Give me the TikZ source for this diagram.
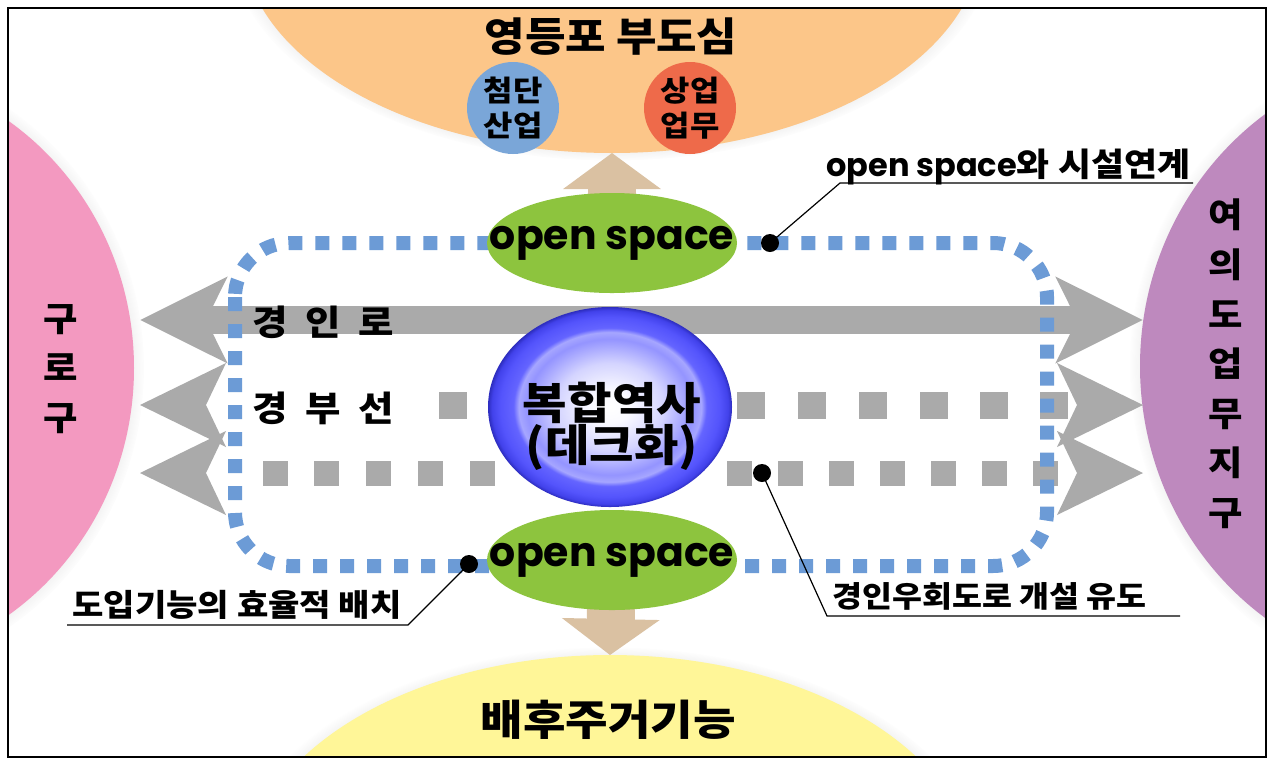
\documentclass[tikz,border=0pt]{standalone}
\usepackage{fontspec}
\newfontfamily\kr{Noto Sans CJK KR}[FakeStretch=1.1]
\newfontfamily\pop{Poppins}
\usetikzlibrary{shapes.geometric,shadows,fadings,arrows.meta}
\definecolor{orangeC}{RGB}{252,198,137}
\definecolor{blueC}{RGB}{122,166,216}
\definecolor{redC}{RGB}{238,106,74}
\definecolor{tanC}{RGB}{218,193,162}
\definecolor{greenC}{RGB}{141,196,62}
\definecolor{pinkC}{RGB}{243,153,192}
\definecolor{purpleC}{RGB}{190,137,190}
\definecolor{yellowC}{RGB}{255,246,152}
\definecolor{grayC}{RGB}{170,170,170}
\definecolor{dotC}{RGB}{108,155,214}
\definecolor{sphA}{RGB}{250,250,255}
\definecolor{sphB}{RGB}{212,212,255}
\definecolor{sphC}{RGB}{148,148,255}
\definecolor{sphR}{RGB}{166,166,255}
\definecolor{sphD}{RGB}{100,100,255}
\definecolor{sphF}{RGB}{84,84,252}
\definecolor{sphG}{RGB}{66,66,235}
\definecolor{sphE}{RGB}{45,45,190}
\pgfdeclareradialshading{sph}{\pgfpoint{0bp}{0bp}}{color(0bp)=(white); color(4bp)=(sphA); color(11bp)=(sphB); color(17bp)=(sphC); color(18.7bp)=(sphR); color(19.8bp)=(sphD); color(22.5bp)=(sphF); color(24.2bp)=(sphG); color(25bp)=(sphE); color(50bp)=(sphE)}
\newcommand\grayhead[3]{\fill[grayC] (#1,#2) -- ++({#3*86},-42) -- ++({-(#3)*20},42) -- ++({#3*20},42) -- cycle;}
\newcommand\widesp{\spaceskip=9pt plus 0pt minus 0pt\relax}
\begin{document}
\begin{tikzpicture}[x=0.5pt,y=-0.5pt,
  regionell/.style={ellipse, inner sep=0pt, outer sep=0pt,
    circular drop shadow={shadow scale=1.035, shadow xshift=0pt, shadow yshift=0pt, opacity=0.35}},
  osell/.style={ellipse, fill=greenC, inner sep=0pt, outer sep=0pt, minimum width=125pt, minimum height=50pt},
  subcirc/.style={circle, inner sep=0pt, outer sep=0pt, minimum size=46pt, align=center,
    font=\kr\bfseries\fontsize{14.5}{17.5}\selectfont},
  hubball/.style={ellipse, inner sep=0pt, minimum width=122pt, minimum height=100pt, shade, shading=sph},
  headtxt/.style={font=\kr\bfseries\fontsize{20}{24}\selectfont},
  ostxt/.style={font=\pop\bfseries\fontsize{20.5}{24}\selectfont},
  vtxt/.style={align=center, font=\kr\bfseries\fontsize{17}{24.8}\selectfont},
  roadtxt/.style={anchor=west, font=\kr\bfseries\fontsize{17.5}{20}\selectfont},
  calltxt/.style={anchor=base west, inner sep=0pt, font=\kr\bfseries\fontsize{16.3}{18}\selectfont},
  tanarrow/.style={draw=tanC, line width=24pt, -{Triangle[width=48pt, length=18pt]}},
  graybar/.style={draw=grayC, line width=14pt,
    {Stealth[length=43pt, width=42pt, inset=10pt]}-{Stealth[length=43pt, width=42pt, inset=10pt]}},
  dotrect/.style={draw=dotC, line width=7pt, dash pattern=on 7pt off 6.5pt, rounded corners=27pt},
  leader/.style={draw=black, line width=0.6pt},
  dotend/.style={circle, fill=black, inner sep=0pt, minimum size=9pt}
]
\useasboundingbox (0,0) rectangle (1273,762);
\fill[white] (0,0) rectangle (1273,762);

% surrounding districts
\begin{scope}
\clip (8,8) rectangle (1266,757);
\node[regionell, fill=pinkC, minimum width=290pt, minimum height=300pt] (guro) at (-156,368) {};
\node[regionell, fill=purpleC, minimum width=300pt, minimum height=310pt] (yeoui) at (1440,366) {};
\node[regionell, fill=orangeC, minimum width=370pt, minimum height=215pt] (ydp) at (612,-62) {};
\node[regionell, fill=yellowC, minimum width=366pt, minimum height=225pt] (bh) at (610,880) {};
\end{scope}

% sub circles in the top district
\node[subcirc, fill=blueC] (cdan) at (513,108) {첨단\\산업};
\node[subcirc, fill=redC] (sang) at (690,108) {상업\\업무};
\node[headtxt] (ydpt) at (611,37) {영등포 부도심};
\node[headtxt, font=\kr\bfseries\fontsize{21}{24}\selectfont] (bht) at (608,720) {배후주거기능};

% tan arrows
\coordinate (os1c) at (612,243);
\coordinate (os2c) at (612,560);
\draw[tanarrow] (os1c) -- (ydp.south);
\draw[tanarrow] (os2c) -- (bh.north);

% gray arrows
\coordinate (gl1) at (140,320);
\coordinate (gr1) at (1143,320);
\draw[graybar] (gl1) -- (gr1);
\grayhead{140}{405}{1}
\grayhead{1143}{405}{-1}
\grayhead{140}{473}{1}
\grayhead{1143}{473}{-1}
\foreach \x in {439,737,798,859,920,980,1040} \fill[grayC] (\x,392) rectangle ++(28,27);
\foreach \x in {263,314,366,418,470,727,778,829,880,931,982,1033} \fill[grayC] (\x,461) rectangle ++(25,25);

% dotted boundary
\draw[dotrect] (235,243) rectangle (1047,566);

% hub and open spaces
\node[hubball] (hub) at (610,407) {};
\node[osell] (os1) at (os1c) {};
\node[osell] (os2) at (os2c) {};
\node[ostxt] (os1t) at (os1) {open space};
\node[ostxt] (os2t) at (os2) {open space};
\node[align=center, font=\kr\bfseries\fontsize{22}{21}\selectfont] (hubt) at (612,426) {복합역사\\(데크화)};

% road labels
\node[roadtxt] (r1) at (245,322) {\widesp 경 인 로};
\node[roadtxt] (r2) at (245,408) {\widesp 경 부 선};

% district names
\node[vtxt] (gurot) at (61,369) {구\\로\\구};
\node[vtxt] (yeouit) at (1226,364) {여\\의\\도\\업\\무\\지\\구};

% callouts
\coordinate (k1) at (770,243);
\coordinate (k1b) at (840,183);
\coordinate (k1c) at (1193,183);
\draw[leader] (k1) -- (k1b) -- (k1c);
\node[dotend] (d1) at (k1) {};
\node[calltxt] (t1) at (826,176) {{\pop\fontsize{16}{18}\selectfont open space}와 시설연계};

\coordinate (k2) at (762,473);
\coordinate (k2b) at (827,616);
\coordinate (k2c) at (1180,616);
\draw[leader] (k2) -- (k2b) -- (k2c);
\node[dotend] (d2) at (k2) {};
\node[calltxt, font=\kr\bfseries\fontsize{14.8}{18}\selectfont] (t2) at (832,607) {경인우회도로 개설 유도};

\coordinate (k3) at (469,564);
\coordinate (k3b) at (408,625);
\coordinate (k3c) at (67,625);
\draw[leader] (k3) -- (k3b) -- (k3c);
\node[dotend] (d3) at (k3) {};
\node[calltxt, font=\kr\bfseries\fontsize{15.5}{18}\selectfont] (t3) at (72,616) {도입기능의 효율적 배치};

% frame
\draw[black, line width=0.7pt] (8,8) rectangle (1266,757);
\end{tikzpicture}
\end{document}
